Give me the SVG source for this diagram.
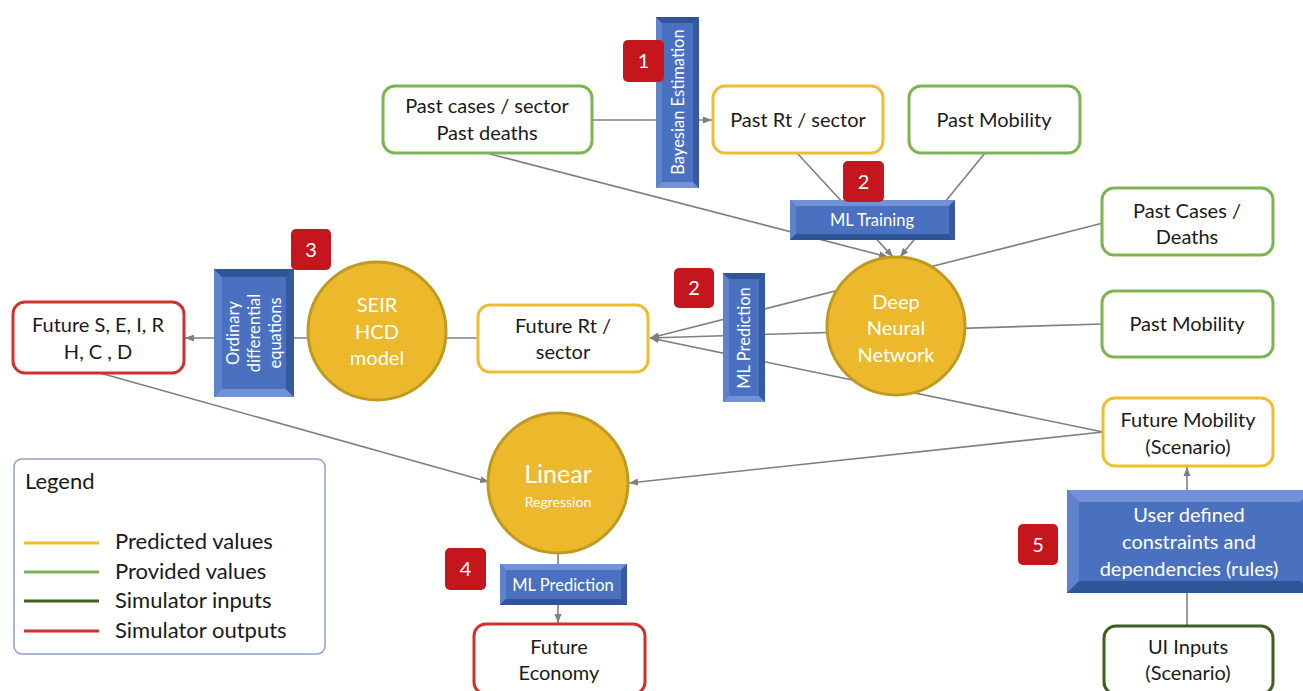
<svg xmlns="http://www.w3.org/2000/svg" width="1303" height="691" viewBox="0 0 1303 691">
<defs>
<marker id="arr" markerUnits="userSpaceOnUse" markerWidth="10" markerHeight="8" refX="9" refY="4" orient="auto">
<path d="M0,0.5 L9,4 L0,7.5 z" fill="#7F7F7F"/>
</marker>
<style>
text{font-family:Lato,"Open Sans","Liberation Sans",sans-serif;}
.t{font-size:20px;fill:#1a1a1a;text-anchor:middle;}
.lg{font-size:22px;fill:#1a1a1a;text-anchor:start;}
.w{font-size:20px;fill:#ffffff;text-anchor:middle;}
.ws{font-size:16.5px;fill:#ffffff;text-anchor:middle;}
.box{fill:#ffffff;stroke-width:3;}
.y{stroke:#EEBE2E;}
.g{stroke:#7CB550;}
.r{stroke:#D0312D;}
.dg{stroke:#3D5F23;}
.circ{fill:#EBB92B;stroke:#BF9A1F;stroke-width:3;}
.base{fill:#4A71C0;}
.lt{fill:#7391D6;}
.ll{fill:#5F82CC;}
.db{fill:#2F5597;}
.dr{fill:#37599F;}
.badge{fill:#C4161C;}
.bn{font-size:20px;fill:#ffffff;text-anchor:middle;}
.con{stroke:#7F7F7F;stroke-width:1.6;fill:none;}
</style>
</defs>
<rect width="1303" height="691" fill="#ffffff"/>

<g id="connectors">
<line class="con" x1="592" y1="120" x2="712" y2="120" marker-end="url(#arr)"/>
<line class="con" x1="490" y1="154" x2="888" y2="257" marker-end="url(#arr)"/>
<line class="con" x1="797" y1="153" x2="893" y2="257" marker-end="url(#arr)"/>
<line class="con" x1="985" y1="153" x2="900" y2="257" marker-end="url(#arr)"/>
<line class="con" x1="1103" y1="223" x2="650" y2="338" marker-end="url(#arr)"/>
<line class="con" x1="1102" y1="324" x2="650" y2="338" marker-end="url(#arr)"/>
<line class="con" x1="1103" y1="432" x2="650" y2="338" marker-end="url(#arr)"/>
<line class="con" x1="478" y1="338" x2="185" y2="338" marker-end="url(#arr)"/>
<line class="con" x1="100" y1="373" x2="489" y2="482" marker-end="url(#arr)"/>
<line class="con" x1="1103" y1="432" x2="629" y2="483" marker-end="url(#arr)"/>
<line class="con" x1="558" y1="553" x2="558" y2="623" marker-end="url(#arr)"/>
<line class="con" x1="1187" y1="626" x2="1187" y2="467" marker-end="url(#arr)"/>
</g>

<g id="past-cases">
<rect class="box g" x="383" y="86" width="209" height="67" rx="12"/>
<text class="t" x="487" y="113">Past cases / sector</text>
<text class="t" x="487" y="140">Past deaths</text>
</g>

<g id="bayesian">
<rect class="base" x="656" y="17" width="43" height="171"/>
<polygon class="ll" points="656,17 662,23 662,182 656,188"/>
<polygon class="lt" points="656,188 662,182 693,182 699,188"/>
<polygon class="dr" points="699,17 699,188 693,182 693,23"/>
<polygon class="db" points="656,17 699,17 693,23 662,23"/>
<text class="ws" transform="translate(684,102) rotate(-90)">Bayesian Estimation</text>
</g>

<g id="badge1">
<rect class="badge" x="623" y="40" width="41" height="42" rx="5"/>
<text class="bn" x="643.5" y="68">1</text>
</g>

<g id="past-rt">
<rect class="box y" x="713" y="86" width="170" height="67" rx="12"/>
<text class="t" x="798" y="127">Past Rt / sector</text>
</g>

<g id="past-mobility-top">
<rect class="box g" x="909" y="86" width="171" height="67" rx="12"/>
<text class="t" x="994" y="127">Past Mobility</text>
</g>

<g id="ml-training">
<rect class="base" x="790" y="200" width="165" height="40"/>
<polygon class="lt" points="790,200 955,200 949,206 796,206"/>
<polygon class="ll" points="790,200 796,206 796,234 790,240"/>
<polygon class="db" points="790,240 796,234 949,234 955,240"/>
<polygon class="dr" points="955,200 955,240 949,234 949,206"/>
<text class="ws" x="872" y="226">ML Training</text>
</g>

<g id="badge2a">
<rect class="badge" x="843" y="161" width="41" height="41" rx="5"/>
<text class="bn" x="863.5" y="188.5">2</text>
</g>

<g id="past-cases-deaths">
<rect class="box g" x="1102" y="188" width="171" height="67" rx="12"/>
<text class="t" x="1187" y="218">Past Cases /</text>
<text class="t" x="1187" y="244">Deaths</text>
</g>

<g id="dnn">
<circle class="circ" cx="896" cy="326" r="69"/>
<text class="w" x="896" y="309">Deep</text>
<text class="w" x="896" y="335">Neural</text>
<text class="w" x="896" y="362">Network</text>
</g>

<g id="past-mobility-right">
<rect class="box g" x="1102" y="291" width="171" height="66" rx="12"/>
<text class="t" x="1187" y="331">Past Mobility</text>
</g>

<g id="ml-prediction-mid">
<rect class="base" x="723" y="273" width="42" height="129"/>
<polygon class="ll" points="723,273 729,279 729,396 723,402"/>
<polygon class="lt" points="723,402 729,396 759,396 765,402"/>
<polygon class="dr" points="765,273 765,402 759,396 759,279"/>
<polygon class="db" points="723,273 765,273 759,279 729,279"/>
<text class="ws" transform="translate(750,338) rotate(-90)">ML Prediction</text>
</g>

<g id="badge2b">
<rect class="badge" x="674" y="268" width="40" height="40" rx="5"/>
<text class="bn" x="694" y="295">2</text>
</g>

<g id="future-rt">
<rect class="box y" x="478" y="305" width="170" height="67" rx="12"/>
<text class="t" x="563" y="333">Future Rt /</text>
<text class="t" x="563" y="359">sector</text>
</g>

<g id="seir">
<circle class="circ" cx="377" cy="331" r="69"/>
<text class="w" x="377" y="312">SEIR</text>
<text class="w" x="377" y="339">HCD</text>
<text class="w" x="377" y="365">model</text>
</g>

<g id="badge3">
<rect class="badge" x="291" y="229" width="40" height="41" rx="5"/>
<text class="bn" x="311" y="256.5">3</text>
</g>

<g id="ode">
<rect class="base" x="214" y="269" width="80" height="128"/>
<polygon class="ll" points="214,269 222,277 222,389 214,397"/>
<polygon class="lt" points="214,397 222,389 286,389 294,397"/>
<polygon class="dr" points="294,269 294,397 286,389 286,277"/>
<polygon class="db" points="214,269 294,269 286,277 222,277"/>
<text class="ws" transform="translate(239,333) rotate(-90)">Ordinary</text>
<text class="ws" transform="translate(260,333) rotate(-90)">differential</text>
<text class="ws" transform="translate(281,333) rotate(-90)">equations</text>
</g>

<g id="future-seir">
<rect class="box r" x="13" y="302" width="171" height="71" rx="12"/>
<text class="t" x="98" y="332">Future S, E, I, R</text>
<text class="t" x="98" y="359">H, C , D</text>
</g>

<g id="linear-regression">
<circle class="circ" cx="558" cy="483" r="70"/>
<text x="558" y="483" style="font-size:25px;fill:#ffffff;text-anchor:middle;">Linear</text>
<text x="558" y="507" style="font-size:14px;fill:#ffffff;text-anchor:middle;">Regression</text>
</g>

<g id="badge4">
<rect class="badge" x="445" y="548" width="41" height="42" rx="5"/>
<text class="bn" x="465.5" y="576">4</text>
</g>

<g id="ml-prediction-bottom">
<rect class="base" x="500" y="564" width="127" height="41"/>
<polygon class="lt" points="500,564 627,564 621,570 506,570"/>
<polygon class="ll" points="500,564 506,570 506,599 500,605"/>
<polygon class="db" points="500,605 506,599 621,599 627,605"/>
<polygon class="dr" points="627,564 627,605 621,599 621,570"/>
<text class="ws" x="563" y="591">ML Prediction</text>
</g>

<g id="future-economy">
<rect class="box r" x="474" y="624" width="171" height="70" rx="12"/>
<text class="t" x="559" y="654">Future</text>
<text class="t" x="559" y="680">Economy</text>
</g>

<g id="future-mobility">
<rect class="box y" x="1103" y="398" width="170" height="68" rx="12"/>
<text class="t" x="1188" y="427">Future Mobility</text>
<text class="t" x="1188" y="454">(Scenario)</text>
</g>

<g id="user-rules">
<rect class="base" x="1067" y="490" width="245" height="103"/>
<polygon class="lt" points="1067,490 1312,490 1300,502 1079,502"/>
<polygon class="ll" points="1067,490 1079,502 1079,581 1067,593"/>
<polygon class="db" points="1067,593 1079,581 1300,581 1312,593"/>
<text class="w" x="1189" y="522">User defined</text>
<text class="w" x="1189" y="549">constraints and</text>
<text class="w" x="1189" y="576">dependencies (rules)</text>
</g>

<g id="badge5">
<rect class="badge" x="1018" y="524" width="40" height="41" rx="5"/>
<text class="bn" x="1038" y="551.5">5</text>
</g>

<g id="ui-inputs">
<rect class="box dg" x="1104" y="626" width="169" height="68" rx="12"/>
<text class="t" x="1188" y="654">UI Inputs</text>
<text class="t" x="1188" y="680">(Scenario)</text>
</g>

<g id="legend">
<rect x="14" y="459" width="311" height="195" rx="8" fill="#ffffff" stroke="#8FA2C6" stroke-width="1.5"/>
<text class="lg" x="25" y="489">Legend</text>
<line x1="24" y1="543" x2="99" y2="543" stroke="#EEBE2E" stroke-width="3"/>
<line x1="24" y1="572" x2="99" y2="572" stroke="#7CB550" stroke-width="3"/>
<line x1="24" y1="601" x2="99" y2="601" stroke="#3D5F23" stroke-width="3"/>
<line x1="24" y1="631" x2="99" y2="631" stroke="#D0312D" stroke-width="3"/>
<text class="lg" x="115" y="549">Predicted values</text>
<text class="lg" x="115" y="579">Provided values</text>
<text class="lg" x="115" y="608">Simulator inputs</text>
<text class="lg" x="115" y="638">Simulator outputs</text>
</g>
</svg>
